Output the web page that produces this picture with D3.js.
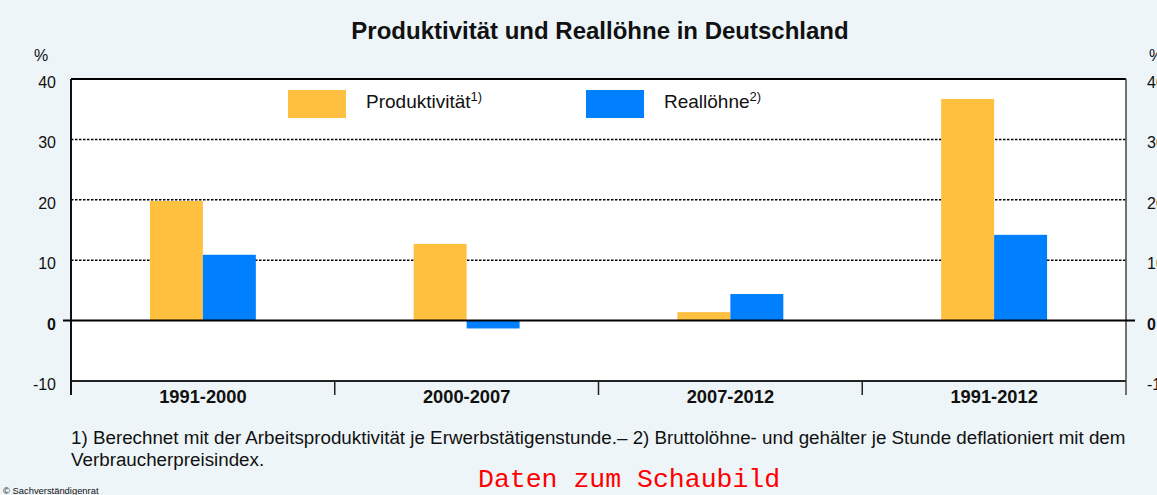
<!DOCTYPE html>
<html>
<head>
<meta charset="utf-8">
<script src="https://cdn.jsdelivr.net/npm/d3@7"></script>
<style>
  html, body { margin: 0; padding: 0; background: #edf5f8; }
  svg { display: block; font-family: "Liberation Sans", Arial, sans-serif; }
</style>
</head>
<body>
<svg id="chart" width="1157" height="495"></svg>
<script>
// Zeiträume und Veränderungen in Prozent
const categories = ["1991-2000", "2000-2007", "2007-2012", "1991-2012"];
const produktivitaet = [19.8, 12.7, 1.4, 36.7];
const realloehne = [10.9, -1.3, 4.4, 14.2];
const seriesNames = ["Produktivität", "Reallöhne"];
const seriesNotes = ["1)", "2)"];
const yTicks = [-10, 0, 10, 20, 30, 40];
const colors = ["#ffc040", "#0080ff"];

(function () {
const svg = d3.select("#chart");
const pLeft = 71, pRight = 1126, pTop = 79, pBottom = 381;

const x = d3.scaleBand().domain(categories).range([pLeft, pRight]);
const xs = d3.scaleBand().domain(seriesNames).range([0, x.bandwidth()]).paddingInner(0).paddingOuter(1.49);
const y = d3.scaleLinear().domain([-10, 40]).range([pBottom, pTop]);

// Plotfläche
svg.append("rect").attr("x", pLeft).attr("y", pTop).attr("width", pRight - pLeft).attr("height", pBottom - pTop).attr("fill", "#fff");

// Gitterlinien
svg.append("g").selectAll("line").data(yTicks.filter(d => d > 0 && d < 40)).join("line")
  .attr("x1", pLeft).attr("x2", pRight).attr("y1", d => y(d)).attr("y2", d => y(d))
  .attr("stroke", "#000").attr("stroke-width", 1.5).attr("stroke-dasharray", "2.5,1.5");

// Balken
const data = categories.map((c, i) => ({ c, vals: [produktivitaet[i], realloehne[i]] }));
const groups = svg.append("g").selectAll("g").data(data).join("g")
  .attr("transform", d => `translate(${x(d.c)},0)`);
groups.selectAll("rect").data(d => d.vals.map((v, j) => ({ v, j }))).join("rect")
  .attr("x", d => xs(seriesNames[d.j]))
  .attr("width", xs.bandwidth())
  .attr("y", d => y(Math.max(0, d.v)))
  .attr("height", d => Math.abs(y(d.v) - y(0)))
  .attr("fill", d => colors[d.j]);

// Rahmen
svg.append("line").attr("x1", pLeft).attr("x2", pRight).attr("y1", pTop).attr("y2", pTop).attr("stroke", "#000").attr("stroke-width", 2);
svg.append("line").attr("x1", pLeft).attr("x2", pRight).attr("y1", pBottom).attr("y2", pBottom).attr("stroke", "#222").attr("stroke-width", 2);
svg.append("line").attr("x1", pRight).attr("x2", pRight).attr("y1", pTop).attr("y2", pBottom + 14).attr("stroke", "#444").attr("stroke-width", 1.5);
svg.append("line").attr("x1", pLeft).attr("x2", pLeft).attr("y1", pTop).attr("y2", pBottom + 14).attr("stroke", "#111").attr("stroke-width", 2);

// Nulllinie
svg.append("line").attr("x1", pLeft - 8).attr("x2", pRight + 9).attr("y1", y(0)).attr("y2", y(0)).attr("stroke", "#000").attr("stroke-width", 2);

// Kategorie-Trennstriche
svg.append("g").selectAll("line").data(categories.slice(1)).join("line")
  .attr("x1", d => x(d)).attr("x2", d => x(d)).attr("y1", pBottom).attr("y2", pBottom + 14)
  .attr("stroke", "#222").attr("stroke-width", 1.5);

// Kategoriebeschriftung
svg.append("g").selectAll("text").data(categories).join("text")
  .attr("x", d => x(d) + x.bandwidth() / 2).attr("y", pBottom + 22)
  .attr("text-anchor", "middle").attr("font-size", 18.3).attr("font-weight", "bold").attr("fill", "#111")
  .text(d => d);

// Y-Achsenbeschriftung links und rechts
const tickLabels = (xpos, anchor) => svg.append("g").selectAll("text").data(yTicks).join("text")
  .attr("x", xpos).attr("y", d => y(d) + 9)
  .attr("text-anchor", anchor).attr("font-size", 16).attr("fill", "#111")
  .attr("font-weight", d => d === 0 ? "bold" : "normal")
  .text(d => d);
tickLabels(56, "end");
tickLabels(1147, "start");
svg.append("text").attr("x", 34).attr("y", 61).attr("font-size", 16).attr("fill", "#111").text("%");
svg.append("text").attr("x", 1149).attr("y", 61).attr("font-size", 16).attr("fill", "#111").text("%");

// Titel
svg.append("text").attr("x", 600).attr("y", 39).attr("text-anchor", "middle")
  .attr("font-size", 24).attr("font-weight", "bold").attr("fill", "#111")
  .text("Produktivität und Reallöhne in Deutschland");

// Legende
const legendX = [288, 586];
seriesNames.forEach((name, i) => {
  svg.append("rect").attr("x", legendX[i]).attr("y", 90).attr("width", 58).attr("height", 28).attr("fill", colors[i]);
  const t = svg.append("text").attr("x", legendX[i] + 78).attr("y", 108).attr("font-size", 19).attr("fill", "#111");
  t.append("tspan").text(name);
  t.append("tspan").attr("dy", -7).attr("font-size", 13).text(seriesNotes[i]);
});

// Fußnoten
svg.append("text").attr("x", 71).attr("y", 444).attr("font-size", 18.8).attr("fill", "#111")
  .text("1) Berechnet mit der Arbeitsproduktivität je Erwerbstätigenstunde.– 2) Bruttolöhne- und gehälter je Stunde deflationiert mit dem");
svg.append("text").attr("x", 71).attr("y", 466).attr("font-size", 18.8).attr("fill", "#111")
  .text("Verbraucherpreisindex.");
svg.append("text").attr("x", 478).attr("y", 487).attr("font-size", 26.5).attr("fill", "#ff0000")
  .attr("font-family", "'Liberation Mono', 'DejaVu Sans Mono', monospace")
  .text("Daten zum Schaubild");
svg.append("text").attr("x", 3).attr("y", 494).attr("font-size", 9.4).attr("fill", "#111")
  .text("© Sachverständigenrat");
})();
</script>
</body>
</html>
